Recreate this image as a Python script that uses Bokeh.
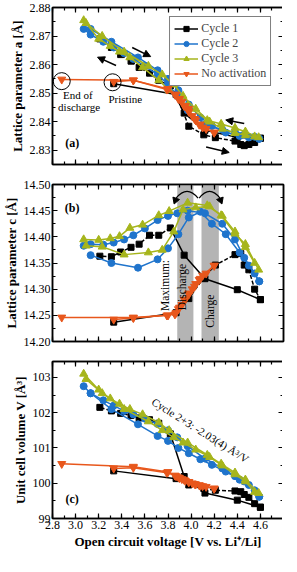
from bokeh.plotting import figure
from bokeh.layouts import column
from bokeh.models import (LinearAxis, SingleIntervalTicker, PrintfTickFormatter, Range1d,
                          Legend, LegendItem, BoxAnnotation, Arrow, NormalHead)
from bokeh.core.properties import value
from bokeh.embed import file_html
from bokeh.resources import INLINE

FONT = "Liberation Serif"

# ---------------- data (open-circuit voltage, V) ----------------
v1_chg = [3.33, 3.87, 3.98, 4.11, 4.21, 4.38, 4.43, 4.46, 4.50, 4.55, 4.60]
v1_dis = [4.60, 4.40, 4.12, 3.94, 3.82, 3.72, 3.64, 3.55, 3.48, 3.39, 3.31, 3.21]
v2_chg = [3.13, 3.31, 3.54, 3.71, 3.80, 3.89, 3.98, 4.08, 4.18, 4.30, 4.42, 4.50, 4.59]
v2_dis = [4.59, 4.55, 4.46, 4.38, 4.27, 4.12, 3.97, 3.88, 3.80, 3.71, 3.60, 3.50, 3.42, 3.33, 3.24, 3.13, 3.07]
v3_chg = [3.09, 3.23, 3.42, 3.63, 3.75, 3.85, 3.93, 4.04, 4.16, 4.27, 4.38, 4.47, 4.55]
v3_dis = [4.585, 4.47, 4.38, 4.26, 4.14, 3.97, 3.81, 3.72, 3.58, 3.47, 3.38, 3.30, 3.20, 3.07]
v4_chg = [3.33, 3.50, 3.79, 3.86, 3.89, 3.92, 3.95, 3.98, 4.01, 4.04, 4.07, 4.10, 4.20]
v4_dis = [4.20, 4.13, 4.08, 4.03, 3.98, 3.94, 3.90, 3.87, 3.80, 3.50, 2.88]

# lattice parameter a (Å)
a1_chg = [2.8533, 2.8495, 2.8384, 2.8354, 2.8344, 2.8332, 2.8320, 2.8316, 2.8320, 2.8327, 2.8342]
a1_dis = [2.8342, 2.8345, 2.8370, 2.8430, 2.8525, 2.8545, 2.8570, 2.8590, 2.8612, 2.8635, 2.8660, 2.8690]
a2_chg = [2.8725, 2.8680, 2.8625, 2.8580, 2.8550, 2.8510, 2.8460, 2.8415, 2.8385, 2.8362, 2.8350, 2.8345, 2.8340]
a2_dis = [2.8340, 2.8347, 2.8355, 2.8362, 2.8372, 2.8390, 2.8440, 2.8490, 2.8530, 2.8565, 2.8595, 2.8620, 2.8640, 2.8660, 2.8680, 2.8705, 2.8725]
a3_chg = [2.8745, 2.8700, 2.8645, 2.8595, 2.8565, 2.8530, 2.8490, 2.8445, 2.8400, 2.8375, 2.8360, 2.8352, 2.8348]
a3_dis = [2.8345, 2.8365, 2.8378, 2.8392, 2.8405, 2.8455, 2.8510, 2.8545, 2.8590, 2.8625, 2.8645, 2.8665, 2.8690, 2.8755]
a4_chg = [2.8540, 2.8545, 2.8513, 2.8495, 2.8480, 2.8470, 2.8455, 2.8445, 2.8420, 2.8405, 2.8390, 2.8380, 2.8362]
a4_dis = [2.8362, 2.8375, 2.8390, 2.8410, 2.8435, 2.8455, 2.8480, 2.8495, 2.8515, 2.8545, 2.8548]

# lattice parameter c (Å)
c1_chg = [14.237, 14.255, 14.282, 14.322, 14.346, 14.366, 14.368, 14.346, 14.337, 14.300, 14.280]
c1_dis = [14.280, 14.299, 14.320, 14.365, 14.417, 14.403, 14.403, 14.386, 14.380, 14.371, 14.362, 14.363]
c2_chg = [14.365, 14.350, 14.341, 14.357, 14.378, 14.405, 14.437, 14.448, 14.425, 14.405, 14.370, 14.345, 14.315]
c2_dis = [14.315, 14.330, 14.360, 14.395, 14.425, 14.445, 14.450, 14.445, 14.440, 14.432, 14.416, 14.403, 14.395, 14.389, 14.385, 14.386, 14.383]
c3_chg = [14.383, 14.381, 14.366, 14.370, 14.375, 14.410, 14.452, 14.456, 14.458, 14.440, 14.410, 14.380, 14.350]
c3_dis = [14.337, 14.386, 14.406, 14.441, 14.460, 14.465, 14.449, 14.441, 14.423, 14.417, 14.401, 14.397, 14.394, 14.395]
c4_chg = [14.242, 14.245, 14.250, 14.252, 14.262, 14.270, 14.280, 14.290, 14.300, 14.310, 14.318, 14.326, 14.345]
c4_dis = [14.345, 14.330, 14.320, 14.305, 14.292, 14.280, 14.265, 14.255, 14.250, 14.246, 14.246]

# unit cell volume V (Å^3)
u1_chg = [100.35, 100.13, 99.95, 99.85, 99.80, 99.78, 99.76, 99.68, 99.60, 99.42, 99.32]
u1_dis = [99.32, 99.52, 99.72, 100.19, 101.40, 101.70, 101.80, 101.85, 101.92, 101.98, 102.05, 102.15]
u2_chg = [102.55, 102.10, 101.67, 101.34, 101.20, 101.00, 100.85, 100.68, 100.52, 100.33, 100.10, 99.95, 99.62]
u2_dis = [99.62, 99.80, 100.05, 100.20, 100.42, 100.70, 101.05, 101.30, 101.50, 101.68, 101.83, 101.95, 102.05, 102.20, 102.35, 102.55, 102.75]
u3_chg = [102.95, 102.55, 102.10, 101.75, 101.50, 101.30, 101.15, 100.95, 100.74, 100.50, 100.25, 100.05, 99.75]
u3_dis = [99.72, 100.10, 100.30, 100.55, 100.80, 101.15, 101.50, 101.72, 101.95, 102.10, 102.25, 102.40, 102.65, 103.10]
u4_chg = [100.42, 100.44, 100.30, 100.22, 100.17, 100.12, 100.07, 100.03, 100.00, 99.97, 99.95, 99.92, 99.85]
u4_dis = [99.85, 99.90, 99.93, 99.98, 100.04, 100.10, 100.15, 100.20, 100.32, 100.47, 100.55]

series_names = ["Cycle 1", "Cycle 2", "Cycle 3", "No activation"]
series_colors = ["#000000", "#1f74cc", "#a6b51c", "#e8571c"]
series_markers = ["square", "circle", "triangle", "inverted_triangle"]
series_sizes = [6, 7, 8, 8]
v_chg = [v1_chg, v2_chg, v3_chg, v4_chg]
v_dis = [v1_dis, v2_dis, v3_dis, v4_dis]
# Cycle 1: index where the line style switches (solid -> dashed)
c1_chg_split = 1
c1_dis_split = 4

# annotation anchors
circle_x = [2.88, 3.32]
circle_y = [2.8542, 2.8538]
band_discharge = (3.88, 4.02)
band_charge = (4.09, 4.24)

FW, FH = 231, 157
ML, MR = 46, 5


def style_axis(ax, interval, fmt, labels):
    ax.ticker = SingleIntervalTicker(interval=interval, num_minor_ticks=2)
    ax.formatter = PrintfTickFormatter(format=fmt)
    ax.major_tick_in = 5
    ax.major_tick_out = 0
    ax.minor_tick_in = 3
    ax.minor_tick_out = 0
    ax.major_tick_line_color = "black"
    ax.minor_tick_line_color = "black"
    ax.major_tick_line_width = 1.2
    ax.minor_tick_line_width = 1.2
    ax.axis_line_color = "black"
    ax.axis_line_width = 1.5
    ax.major_label_text_font = FONT
    if labels:
        ax.major_label_text_color = "black"
        ax.major_label_text_font_size = "12px"
        ax.major_label_standoff = 2
    else:
        ax.major_label_text_color = None
        ax.major_label_text_font_size = "0px"
        ax.major_label_standoff = 0
    ax.axis_label_text_font = FONT
    ax.axis_label_text_font_style = "bold"
    ax.axis_label_text_font_size = "13px"
    ax.axis_label_text_color = "black"
    ax.axis_label_standoff = 2


def make_panel(ylabel, yr, yint, yfmt, bottom_labels, top_b, bot_b):
    p = figure(frame_width=FW, frame_height=FH,
               x_range=Range1d(2.8, 4.8), y_range=Range1d(*yr),
               output_backend="svg", toolbar_location=None,
               min_border_left=ML, min_border_right=MR,
               min_border_top=top_b, min_border_bottom=bot_b)
    p.grid.visible = False
    p.outline_line_color = "black"
    p.outline_line_width = 1.5
    p.background_fill_color = "white"
    p.border_fill_color = "white"
    bottom = p.below[0]
    left = p.left[0]
    style_axis(bottom, 0.2, "%.1f", bottom_labels)
    style_axis(left, yint, yfmt, True)
    left.axis_label = ylabel
    top = LinearAxis()
    style_axis(top, 0.2, "%.1f", False)
    p.add_layout(top, "above")
    right = LinearAxis()
    style_axis(right, yint, yfmt, False)
    p.add_layout(right, "right")
    return p, bottom


def draw_series(p, vals_chg, vals_dis):
    items = []
    for i in range(4):
        col = series_colors[i]
        vc, yc = v_chg[i], vals_chg[i]
        vd, yd = v_dis[i], vals_dis[i]
        if i == 0:
            k = c1_chg_split
            rl = p.line(vc[:k + 1], yc[:k + 1], line_color=col, line_width=1.5)
            p.line(vc[k:], yc[k:], line_color=col, line_width=1.5, line_dash="4 2")
            k = c1_dis_split
            p.line(vd[:k + 1], yd[:k + 1], line_color=col, line_width=1.5)
            p.line(vd[k:], yd[k:], line_color=col, line_width=1.5, line_dash="4 2")
        else:
            rl = p.line(vc, yc, line_color=col, line_width=1.5)
            p.line(vd, yd, line_color=col, line_width=1.5)
        rs = p.scatter(vc, yc, marker=series_markers[i], size=series_sizes[i],
                       fill_color=col, line_color=col)
        p.scatter(vd, yd, marker=series_markers[i], size=series_sizes[i],
                  fill_color=col, line_color=col)
        items.append(LegendItem(label=series_names[i], renderers=[rl, rs]))
    return items


def txt(p, x, y, s, size="11px", style="normal", angle=0.0, align="center"):
    p.text(x=[x], y=[y], text=[s], text_font=value(FONT), text_font_size=size,
           text_font_style=style, text_align=align, text_baseline="middle",
           text_color="black", angle=angle)


def arrow(p, x0, y0, x1, y1):
    p.add_layout(Arrow(end=NormalHead(size=7, fill_color="black", line_color="black"),
                       x_start=x0, y_start=y0, x_end=x1, y_end=y1,
                       line_color="black", line_width=1.5))


# ---------------- panel (a) ----------------
pa, _ = make_panel("Lattice parameter a [Å]", (2.825, 2.88), 0.01, "%.2f", False, 7, 10)
items = draw_series(pa, [a1_chg, a2_chg, a3_chg, a4_chg], [a1_dis, a2_dis, a3_dis, a4_dis])
leg = Legend(items=items, location="top_right", margin=9, padding=4, spacing=0,
             label_text_font=FONT, label_text_font_size="12px", label_height=13,
             glyph_height=13, glyph_width=24, label_standoff=3,
             border_line_color="black", border_line_width=1, background_fill_alpha=1)
pa.add_layout(leg)
pa.scatter(circle_x, circle_y, marker="circle", size=17, fill_color=None,
           line_color="black", line_width=1)
txt(pa, 3.02, 2.8495, "End of")
txt(pa, 3.03, 2.8452, "discharge")
txt(pa, 3.43, 2.8478, "Pristine")
txt(pa, 2.97, 2.8325, "(a)", size="12px", style="bold")
arrow(pa, 3.49, 2.8660, 3.65, 2.8628)
arrow(pa, 3.35, 2.8597, 3.19, 2.8626)
arrow(pa, 4.46, 2.8394, 4.30, 2.8406)
arrow(pa, 4.13, 2.8311, 4.33, 2.8292)

# ---------------- panel (b) ----------------
pb, _ = make_panel("Lattice parameter c [Å]", (14.20, 14.50), 0.05, "%.2f", False, 10, 10)
for lo, hi in (band_discharge, band_charge):
    pb.add_layout(BoxAnnotation(left=lo, right=hi, fill_color="#b4b4b4", fill_alpha=1.0,
                                line_color=None, level="underlay"))
draw_series(pb, [c1_chg, c2_chg, c3_chg, c4_chg], [c1_dis, c2_dis, c3_dis, c4_dis])
txt(pb, 2.97, 14.456, "(b)", size="12px", style="bold")
txt(pb, 3.775, 14.307, "Maximum:", size="11.5px", angle=1.5708)
txt(pb, 3.925, 14.304, "Discharge", size="11.5px", angle=1.5708)
txt(pb, 4.165, 14.258, "Charge", size="11.5px", angle=1.5708)
pb.quadratic(x0=[4.06, 4.07], y0=[14.474, 14.474], x1=[3.87, 4.25], y1=[14.474, 14.474],
             cx=[3.965, 4.16], cy=[14.500, 14.500], line_color="black", line_width=1.3)
pb.scatter([3.865, 4.255], [14.470, 14.470], marker="inverted_triangle", size=7,
           angle=[-0.35, 0.35], color="black")

# ---------------- panel (c) ----------------
pc, pc_bottom = make_panel("Unit cell volume V [Å³]", (99.0, 103.45), 1.0, "%d", True, 10, 36)
pc_bottom.axis_label = "Open circuit voltage [V vs. Li⁺/Li]"
draw_series(pc, [u1_chg, u2_chg, u3_chg, u4_chg], [u1_dis, u2_dis, u3_dis, u4_dis])
txt(pc, 2.97, 99.55, "(c)", size="12px", style="bold")
txt(pc, 4.08, 101.5, "Cycle 2+3: -2.03(4) Å³/V", size="11px", angle=-0.56)

layout = column(pa, pb, pc, spacing=0)
open("out.html", "w").write(file_html(layout, INLINE))
